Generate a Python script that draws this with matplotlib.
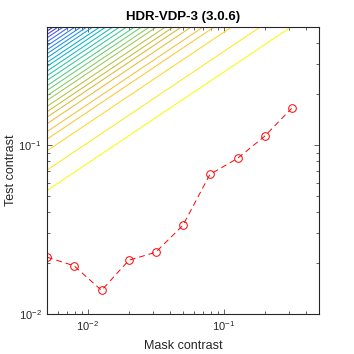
import numpy as np
import matplotlib
matplotlib.use("Agg")
import matplotlib.pyplot as plt
from matplotlib.colors import LinearSegmentedColormap

plt.rcParams['font.family'] = ['Liberation Sans', 'DejaVu Sans']

# Measured thresholds (red curve)
mask_contrast = [0.005, 0.0079, 0.0126, 0.02, 0.0315, 0.05, 0.079, 0.126, 0.2, 0.315]
test_contrast = [0.0217, 0.0193, 0.0138, 0.0208, 0.0232, 0.0335, 0.0671, 0.0834, 0.113, 0.165]

# Contour lines: test contrast where each iso-line meets the left edge (mask = 0.005)
contour_start = [0.4944, 0.4727, 0.4519, 0.4314, 0.4086, 0.3870, 0.3664, 0.3474, 0.3290,
                 0.3085, 0.2922, 0.2741, 0.2574, 0.2415, 0.2246, 0.2107, 0.1960, 0.1838,
                 0.1694, 0.1576, 0.1464, 0.1338, 0.1200, 0.1085, 0.0925, 0.0711, 0.0534]
contour_slope = 0.54  # slope of the iso-lines in log-log space

# parula-like colormap
parula = LinearSegmentedColormap.from_list("parula", [
    (0.2422, 0.1504, 0.6603), (0.2706, 0.3474, 0.9775), (0.1178, 0.5582, 0.8747),
    (0.0196, 0.7025, 0.7972), (0.2161, 0.7843, 0.5923), (0.5394, 0.8046, 0.3563),
    (0.8186, 0.7309, 0.2043), (0.9956, 0.7619, 0.2171), (0.9769, 0.9839, 0.0805)])

fig = plt.figure(figsize=(3.54, 3.54), dpi=100)
ax = fig.add_axes([0.1328, 0.113, 0.768, 0.8107])

# field for the iso-lines
gx = np.logspace(np.log10(0.005), np.log10(0.5), 300)
gy = np.logspace(np.log10(0.01), np.log10(0.5), 300)
X, Y = np.meshgrid(gx, gy)
U = np.log10(Y) - contour_slope * np.log10(X / 0.005)
n = len(contour_start)
xp = np.log10(contour_start[::-1])
fp = np.arange(n)[::-1].astype(float)
Z = np.interp(U, xp, fp, left=n, right=-1)
ax.contour(X, Y, Z, levels=np.arange(n), cmap=parula, linewidths=0.75)

ax.plot(mask_contrast, test_contrast, '--o', color='red', lw=0.7,
        markersize=5.5, markerfacecolor='none', markeredgewidth=0.7, dashes=(6, 4))

ax.set_xscale('log')
ax.set_yscale('log')
ax.set_xlim(0.005, 0.5)
ax.set_ylim(0.01, 0.5)

dark = (0.15, 0.15, 0.15)
for s in ax.spines.values():
    s.set_color(dark)
    s.set_linewidth(0.8)
ax.tick_params(which='both', direction='in', top=True, right=True, colors=dark,
               labelsize=8, width=0.5)
ax.tick_params(which='major', length=3.5, pad=4)
ax.tick_params(which='minor', length=2)

ax.set_xlabel('Mask contrast', fontsize=9, color=dark, labelpad=5)
ax.set_ylabel('Test contrast', fontsize=9, color=dark, labelpad=1)
ax.set_title('HDR-VDP-3 (3.0.6)', fontsize=9.5, fontweight='bold', pad=5)

fig.savefig('out.png', dpi=100)
